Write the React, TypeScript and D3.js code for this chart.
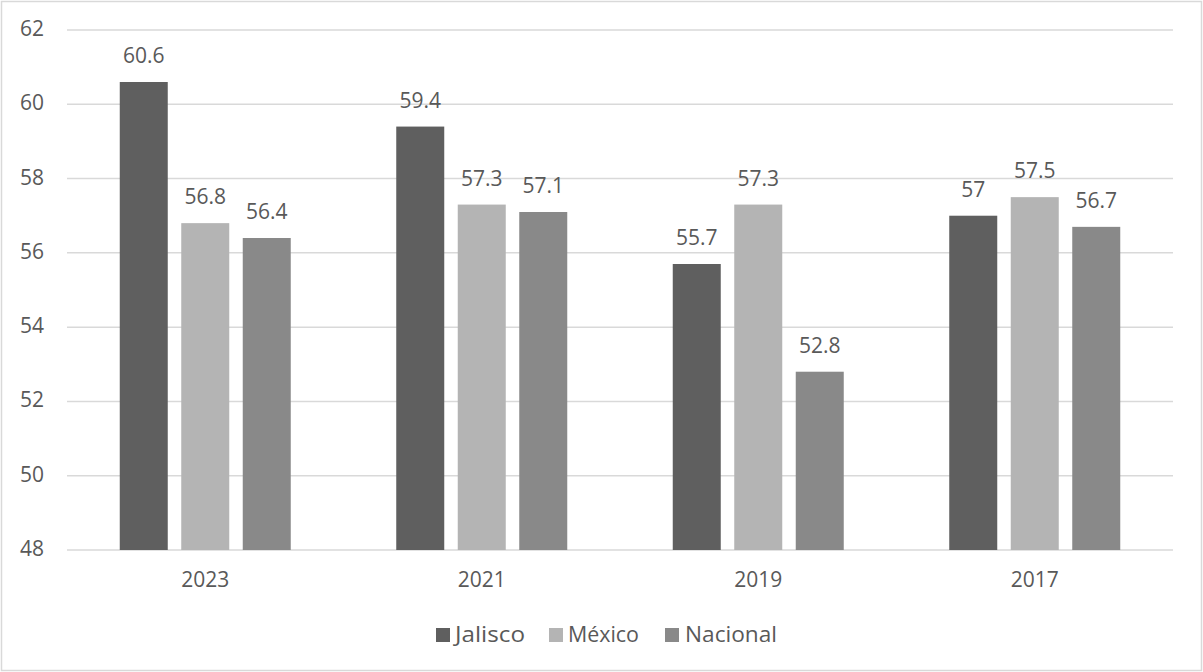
import React from "react";
import * as d3 from "d3";

const years = ["2023", "2021", "2019", "2017"];
const seriesNames = ["Jalisco", "México", "Nacional"];
const jalisco = [60.6, 59.4, 55.7, 57];
const mexico = [56.8, 57.3, 57.3, 57.5];
const nacional = [56.4, 57.1, 52.8, 56.7];
const yTicks = [48, 50, 52, 54, 56, 58, 60, 62];
const colors = ["#5f5f5f", "#b4b4b4", "#898989"];

const W = 1203;
const H = 672;
const plot = { left: 67, right: 1173, top: 30, bottom: 550 };
const FONT = "'Open Sans', 'Liberation Sans', sans-serif";
const TEXT = "#595959";
const FS = 21;

export default function App() {
  const values = [jalisco, mexico, nacional];
  const x0 = d3.scaleBand<string>().domain(years).range([plot.left, plot.right]);
  const groupW = 171;
  const x1 = d3
    .scaleBand<string>()
    .domain(seriesNames)
    .range([0, groupW])
    .paddingInner(0.2195);
  const y = d3.scaleLinear().domain([48, 62]).range([plot.bottom, plot.top]);
  const groupOffset = (x0.bandwidth() - groupW) / 2;

  // legend layout: swatch x, label x, label width
  const legendItems = [
    { sq: 436, tx: 455, w: 70 },
    { sq: 549, tx: 568, w: 71 },
    { sq: 665, tx: 685, w: 92 },
  ];

  return (
    <svg
      width={W}
      height={H}
      style={{ position: "absolute", left: 0, top: 0, background: "#fff" }}
      fontFamily={FONT}
    >
      <rect x={1.5} y={1.5} width={W - 3} height={H - 3} fill="#fff" stroke="#d9d9d9" strokeWidth={1.5} />
      {yTicks.map((t) => (
        <g key={t}>
          <line
            x1={plot.left}
            x2={plot.right}
            y1={y(t)}
            y2={y(t)}
            stroke="#d9d9d9"
            strokeWidth={1.5}
          />
          <text x={44} y={y(t) + 6} textAnchor="end" fontSize={FS} fill={TEXT}>
            {t}
          </text>
        </g>
      ))}
      {years.map((yr, i) => (
        <g key={yr} transform={`translate(${(x0(yr) ?? 0) + groupOffset},0)`}>
          {seriesNames.map((s, j) => {
            const v = values[j][i];
            const bx = x1(s) ?? 0;
            return (
              <g key={s}>
                <rect
                  x={bx}
                  y={y(v)}
                  width={x1.bandwidth()}
                  height={y(48) - y(v)}
                  fill={colors[j]}
                />
                <text
                  x={bx + x1.bandwidth() / 2}
                  y={y(v) - 19}
                  textAnchor="middle"
                  fontSize={FS}
                  fill={TEXT}
                >
                  {v}
                </text>
              </g>
            );
          })}
          <text
            x={groupW / 2}
            y={587}
            textAnchor="middle"
            fontSize={FS}
            fill={TEXT}
          >
            {yr}
          </text>
        </g>
      ))}
      {legendItems.map((it, j) => (
        <g key={seriesNames[j]}>
          <rect x={it.sq} y={628} width={14} height={14} fill={colors[j]} />
          <text
            x={it.tx}
            y={642}
            fontSize={FS}
            fill={TEXT}
            textLength={it.w}
            lengthAdjust="spacingAndGlyphs"
          >
            {seriesNames[j]}
          </text>
        </g>
      ))}
    </svg>
  );
}
